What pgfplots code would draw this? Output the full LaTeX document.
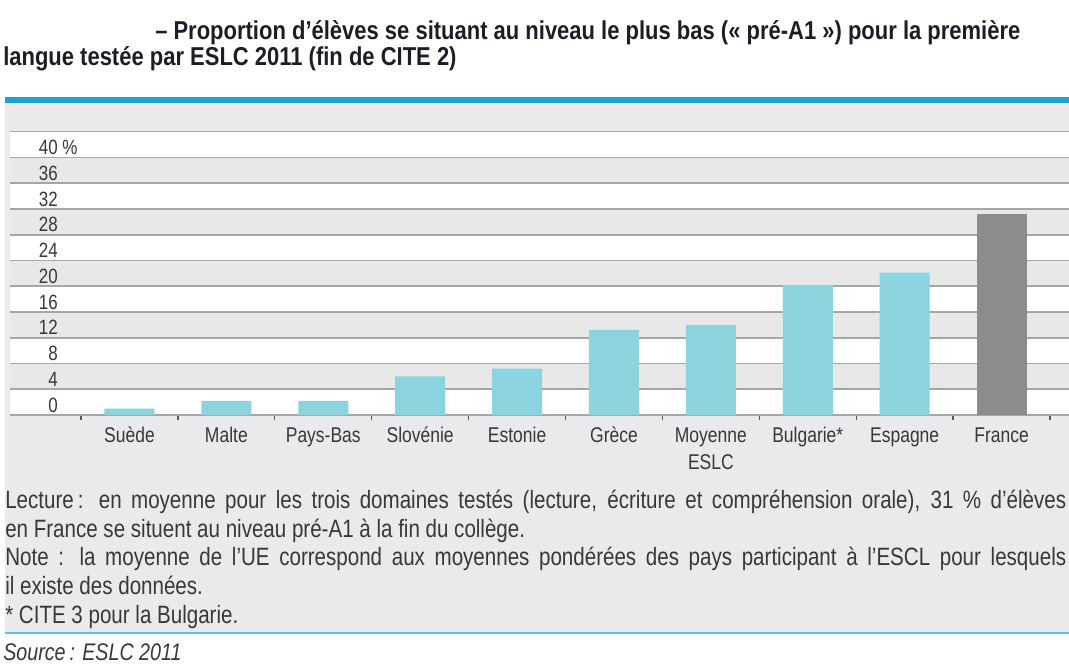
\documentclass[border=0pt]{standalone}
\usepackage{fontspec}
\setmainfont{Liberation Sans}[FakeStretch=0.82]
\newfontfamily\titlef{Liberation Sans}[FakeStretch=0.85]
\usepackage{pgfplots}
\pgfplotsset{compat=1.18}

\definecolor{barblue}{HTML}{8CD3E0}
\definecolor{bargray}{HTML}{8C8C8F}
\definecolor{panel}{HTML}{EAEAEC}
\definecolor{band}{HTML}{E8E8E9}
\definecolor{gridc}{HTML}{A6A6A6}
\definecolor{topblue}{HTML}{19A2D9}
\definecolor{botblue}{HTML}{62BFE0}
\definecolor{txt}{HTML}{38383B}
\definecolor{ttl}{HTML}{1D1D28}

\newcommand\notefont{\fontsize{18.8}{22}\selectfont}
\newcommand\titlefont{\titlef\fontsize{19.4}{23}\selectfont\bfseries}

\begin{document}
\begin{tikzpicture}
% frame, bands and texts, in pixels of the reference (y downwards)
\begin{scope}[x=0.75pt,y=-0.75pt]
\fill[panel] (5,100) rectangle (1069,633);
\fill[white] (10,131.6) rectangle (1069,415);
\foreach \v in {4,12,20,28,36}
  \fill[band] (10,{415-6.4409*\v}) rectangle (1069,{415-6.4409*(\v+4)});
\draw[topblue, line width=4.5pt] (5,100) -- (1069,100);
\draw[botblue, line width=2pt] (5,633) -- (1069,633);

\node[anchor=base west, inner sep=0pt, font=\titlefont, text=ttl]
  at (155,39) {– Proportion d’élèves se situant au niveau le plus bas («~pré-A1~») pour la première};
\node[anchor=base west, inner sep=0pt, font=\titlefont, text=ttl]
  at (3,65) {langue testée par ESLC 2011 (fin de CITE 2)};

\node[anchor=base west, inner sep=0pt, font=\notefont, text=txt] at (5,508.5)
  {\makebox[795.75pt][s]{Lecture\,: en moyenne pour les trois domaines testés (lecture, écriture et compréhension orale), 31 \% d’élèves}};
\node[anchor=base west, inner sep=0pt, font=\notefont, text=txt] at (5,537.2)
  {en France se situent au niveau pré-A1 à la fin du collège.};
\node[anchor=base west, inner sep=0pt, font=\notefont, text=txt] at (5,565.9)
  {\makebox[795.75pt][s]{Note : la moyenne de l’UE correspond aux moyennes pondérées des pays participant à l’ESCL pour lesquels}};
\node[anchor=base west, inner sep=0pt, font=\notefont, text=txt] at (5,594.6)
  {il existe des données.};
\node[anchor=base west, inner sep=0pt, font=\notefont, text=txt] at (5,623.3)
  {* CITE 3 pour la Bulgarie.};
\node[anchor=base west, inner sep=0pt, font=\fontsize{18}{20}\selectfont\itshape, text=txt] at (3,660)
  {Source\,: ESLC 2011};
\end{scope}

\begin{axis}[
  at={(7.5pt,-311.25pt)}, anchor=south west,
  scale only axis, width=794.25pt, height=212.55pt,
  xmin=-1.233, xmax=9.696, ymin=0, ymax=44,
  axis lines*=left,
  x axis line style={gridc, line width=1.4pt},
  y axis line style={draw=none},
  ymajorgrids, major grid style={gridc, line width=1.3pt},
  ytick={0,4,...,44},
  yticklabels={0,4,8,12,16,20,24,28,32,36,40\rlap{ \%},{}},
  xtick={0,...,9},
  xticklabels={\strut Suède,\strut Malte,\strut Pays-Bas,\strut Slovénie,\strut Estonie,\strut Grèce,{\strut Moyenne\\ESLC},\strut Bulgarie*,\strut Espagne,\strut France},
  minor xtick={-0.5,0.5,...,9.5},
  tick align=outside,
  major tick length=0pt,
  minor tick length=4pt,
  minor tick style={black!65, line width=1pt},
  yticklabel style={anchor=east, inner sep=0pt, xshift=36pt, yshift=7.5pt,
    font=\fontsize{15.5}{17}\selectfont, text=txt},
  xticklabel style={anchor=north, align=center, inner sep=0pt, yshift=-6.3pt,
    font=\fontsize{16}{20}\selectfont, text=txt},
  /pgf/number format/assume math mode=true,
]
\addplot[ybar, bar width=37.5pt, bar shift=0pt, fill=barblue, draw=none]
  coordinates {(0,1) (1,2.2) (2,2.2) (3,6) (4,7.2) (5,13.2) (6,14) (7,20.2) (8,22.1)};
\addplot[ybar, bar width=37.5pt, bar shift=0pt, fill=bargray, draw=none]
  coordinates {(9,31.2)};
\end{axis}

\pgfresetboundingbox
\path[use as bounding box] (0pt,0pt) rectangle (801.75pt,-498pt);
\end{tikzpicture}
\end{document}
